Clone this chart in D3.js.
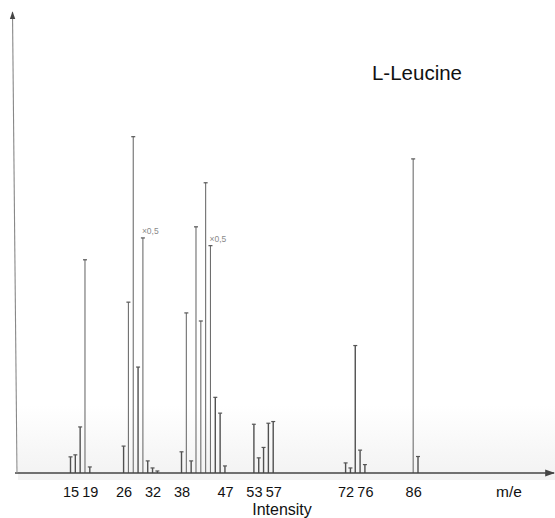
<!DOCTYPE html>
<html>
<head>
<meta charset="utf-8">
<script src="https://cdn.jsdelivr.net/npm/d3@7"></script>
<style>
  html, body { margin: 0; padding: 0; background: #ffffff; }
  svg { display: block; }
</style>
</head>
<body>
<div id="chart"></div>
<script>
// ---- data ----
const massToCharge = [15, 16, 17, 18, 19, 26, 27, 28, 29, 30, 31, 32, 33,
                      38, 39, 40, 41, 42, 43, 44, 45, 46, 47,
                      53, 54, 55, 56, 57, 72, 73, 74, 75, 76, 86, 87];
const relIntensity = [4.8, 5.4, 13.7, 63.4, 1.8, 8.0, 50.8, 100, 31.5, 69.9, 3.6, 1.5, 0.6,
                      6.3, 47.6, 3.6, 73.2, 45.2, 86.3, 67.6, 22.5, 17.8, 2.1,
                      14.5, 4.5, 7.6, 14.8, 15.3, 3.0, 1.5, 37.9, 6.8, 2.5, 93.4, 4.9];
const halfScaled = [30, 44];            // peaks marked "×0,5"
const halfLabel = "×0,5";
const tickLabels = [15, 19, 26, 32, 38, 47, 53, 57, 72, 76, 86];
const title = "L-Leucine";
const xTitle = "m/e";
const yTitle = "Intensity";

// ---- layout ----
const W = 555, H = 518;
const baseY = 473;
const svg = d3.select("#chart").append("svg").attr("width", W).attr("height", H);

// faint photo shading near the baseline
const defs = svg.append("defs");
const grad = defs.append("linearGradient").attr("id", "shade").attr("x1", 0).attr("y1", 0).attr("x2", 0).attr("y2", 1);
grad.append("stop").attr("offset", "0%").attr("stop-color", "#ffffff");
grad.append("stop").attr("offset", "100%").attr("stop-color", "#f2f2f2");
svg.append("rect").attr("x", 18).attr("y", 405).attr("width", W - 18).attr("height", 75).attr("fill", "url(#shade)");

const x = d3.scaleLinear().domain([15, 87]).range([70.5, 418]);
const y = d3.scaleLinear().domain([0, 100]).range([baseY, 136.7]);

const peaks = massToCharge.map((m, i) => ({ m, v: relIntensity[i] }));

// peaks
const g = svg.append("g");
g.selectAll("line.peak").data(peaks).join("line")
  .attr("class", "peak")
  .attr("x1", d => x(d.m)).attr("x2", d => x(d.m))
  .attr("y1", y(0)).attr("y2", d => y(d.v))
  .attr("stroke", d => d.v > 40 ? "#6e6e6e" : "#505050")
  .attr("stroke-width", d => d.v > 40 ? 1.1 : 1.4);
g.selectAll("line.cap").data(peaks).join("line")
  .attr("class", "cap")
  .attr("x1", d => x(d.m) - 2).attr("x2", d => x(d.m) + 2)
  .attr("y1", d => y(d.v)).attr("y2", d => y(d.v))
  .attr("stroke", "#555").attr("stroke-width", 1.2);

// ×0,5 notes
g.selectAll("text.half").data(peaks.filter(d => halfScaled.includes(d.m))).join("text")
  .attr("class", "half")
  .attr("x", d => x(d.m) - 1).attr("y", d => y(d.v) - 4)
  .attr("font-family", "Liberation Sans, Arial, sans-serif")
  .attr("font-size", 8.5).attr("fill", "#8a8a8a")
  .text(halfLabel);

// axis lines with arrows
defs.append("marker").attr("id", "arrow").attr("viewBox", "0 0 10 10")
  .attr("refX", 9).attr("refY", 5).attr("markerWidth", 7).attr("markerHeight", 7)
  .attr("orient", "auto-start-reverse")
  .append("path").attr("d", "M0,1.5 L10,5 L0,8.5 Z").attr("fill", "#444");

svg.append("line").attr("x1", 15).attr("y1", baseY).attr("x2", W - 1).attr("y2", baseY)
  .attr("stroke", "#444").attr("stroke-width", 1.4).attr("marker-end", "url(#arrow)");
svg.append("line").attr("x1", 17).attr("y1", baseY).attr("x2", 12.5).attr("y2", 12)
  .attr("stroke", "#888").attr("stroke-width", 1.1).attr("marker-end", "url(#arrow)");

// tick labels via d3 axis
const axis = d3.axisBottom(x).tickValues(tickLabels).tickSize(0).tickPadding(0).tickFormat(d3.format("d"));
const ax = svg.append("g").attr("transform", `translate(0,${baseY})`).call(axis);
ax.select(".domain").remove();
ax.selectAll("text")
  .attr("dy", null).attr("y", 24)
  .attr("font-family", "Liberation Sans, Arial, sans-serif")
  .attr("font-size", 14.5).attr("fill", "#111");

svg.append("text").attr("x", 509).attr("y", 497).attr("text-anchor", "middle")
  .attr("font-family", "Liberation Sans, Arial, sans-serif").attr("font-size", 15.5).attr("fill", "#111")
  .text(xTitle);
svg.append("text").attr("x", 282).attr("y", 515).attr("text-anchor", "middle")
  .attr("font-family", "Liberation Sans, Arial, sans-serif").attr("font-size", 16).attr("fill", "#111")
  .text(yTitle);
svg.append("text").attr("x", 417).attr("y", 80).attr("text-anchor", "middle")
  .attr("font-family", "Liberation Sans, Arial, sans-serif").attr("font-size", 20.5).attr("fill", "#111")
  .text(title);
</script>
</body>
</html>
